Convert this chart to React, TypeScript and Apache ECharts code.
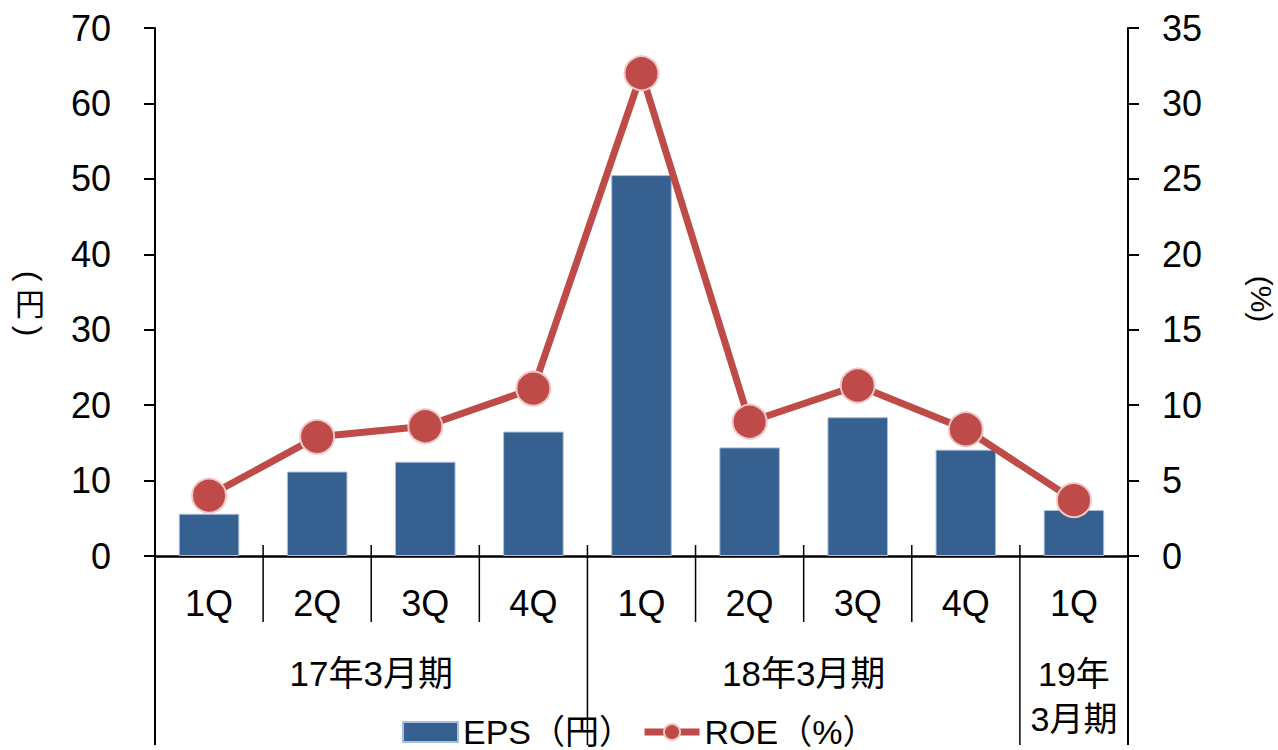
import React, { useEffect, useRef } from "react";
import * as echarts from "echarts";

const quarterLabels = ["1Q", "2Q", "3Q", "4Q", "1Q", "2Q", "3Q", "4Q", "1Q"];
const periodLabels = ["17年3月期", "18年3月期", "19年\n3月期"];
const periodSizes = [4, 4, 1];
const epsValues = [5.6, 11.2, 12.5, 16.5, 50.5, 14.4, 18.4, 14.1, 6.1];
const roeValues = [4.0, 7.9, 8.6, 11.1, 32.0, 8.9, 11.3, 8.4, 3.7];
const leftTicks = { min: 0, max: 70, interval: 10 };
const rightTicks = { min: 0, max: 35, interval: 5 };
const seriesNames = ["EPS（円）", "ROE（%）"];

const FONT = "'Liberation Sans', Arial, 'Noto Sans CJK JP', sans-serif";
const BAR_COLOR = "#36608F";
const LINE_COLOR = "#BE4B48";

const W = 1278;
const H = 750;
const GL = 155;
const GR = 1128;
const GT = 28;
const GB = 556;

export default function App() {
  const ref = useRef<HTMLDivElement>(null);
  useEffect(() => {
    if (!ref.current) return;
    const chart = echarts.init(ref.current, undefined, { renderer: "svg", width: W, height: H });
    const n = quarterLabels.length;
    const cw = (GR - GL) / n;
    const graphics: any[] = [];
    const boundaries = new Set<number>([0]);
    let acc = 0;
    periodSizes.forEach((s) => {
      acc += s;
      boundaries.add(acc);
    });
    for (let i = 0; i <= n; i++) {
      const x = GL + cw * i;
      const isGroup = boundaries.has(i);
      const isEdge = i === 0 || i === n;
      graphics.push({
        type: "line",
        shape: { x1: x, y1: isEdge ? GB : GB - 11, x2: x, y2: isGroup ? 745 : 622 },
        style: { stroke: "#000", lineWidth: isEdge ? 2 : 1.5 },
        z: 10,
      });
    }
    let start = 0;
    periodLabels.forEach((lab, gi) => {
      const s = periodSizes[gi];
      const cx = GL + cw * (start + s / 2);
      const multi = lab.includes("\n");
      graphics.push({
        type: "text",
        x: cx,
        y: multi ? 696 : 673,
        style: {
          text: lab,
          fontSize: multi ? 34 : 35,
          fontFamily: FONT,
          fill: "#000",
          align: "center",
          verticalAlign: "middle",
          lineHeight: 45,
        },
        z: 10,
      });
      start += s;
    });
    graphics.push(
      { type: "text", x: 30, y: 276, rotation: -Math.PI / 2, style: { text: "(", fontSize: 32, fontFamily: FONT, fill: "#000", align: "center", verticalAlign: "middle" } },
      { type: "text", x: 30, y: 304, style: { text: "円", fontSize: 30, fontFamily: FONT, fill: "#000", align: "center", verticalAlign: "middle" } },
      { type: "text", x: 30, y: 331, rotation: -Math.PI / 2, style: { text: ")", fontSize: 32, fontFamily: FONT, fill: "#000", align: "center", verticalAlign: "middle" } },
      { type: "text", x: 1261, y: 299, rotation: -Math.PI / 2, style: { text: "(%)", fontSize: 30, fontFamily: FONT, fill: "#000", align: "center", verticalAlign: "middle" } }
    );

    chart.setOption({
      animation: false,
      backgroundColor: "#fff",
      textStyle: { fontFamily: FONT },
      grid: { left: GL, right: W - GR, top: GT, bottom: H - GB, containLabel: false },
      legend: {
        data: [
          { name: seriesNames[0], icon: "rect" },
          { name: seriesNames[1], lineStyle: { width: 7 } },
        ],
        left: 397,
        top: 710,
        itemWidth: 55,
        itemHeight: 20,
        itemGap: 8,
        lineStyle: { width: 7 },
        textStyle: { fontSize: 34, fontFamily: FONT, color: "#000" },
      },
      xAxis: {
        type: "category",
        data: quarterLabels.map((_, i) => String(i)),
        boundaryGap: true,
        axisLine: { show: true, lineStyle: { color: "#000", width: 2.5 } },
        axisTick: { show: false },
        axisLabel: {
          interval: 0,
          margin: 29,
          fontSize: 36,
          color: "#000",
          fontFamily: FONT,
          formatter: (_v: string, idx: number) => quarterLabels[idx],
        },
        splitLine: { show: false },
      },
      yAxis: [
        {
          type: "value",
          min: leftTicks.min,
          max: leftTicks.max,
          interval: leftTicks.interval,
          position: "left",
          axisLine: { show: true, lineStyle: { color: "#000", width: 2 } },
          axisTick: { show: true, length: 11, lineStyle: { color: "#000", width: 2 } },
          axisLabel: { margin: 44, fontSize: 36, color: "#000", fontFamily: FONT },
          splitLine: { show: false },
        },
        {
          type: "value",
          min: rightTicks.min,
          max: rightTicks.max,
          interval: rightTicks.interval,
          position: "right",
          axisLine: { show: true, lineStyle: { color: "#000", width: 2 } },
          axisTick: { show: true, length: 11, lineStyle: { color: "#000", width: 2 } },
          axisLabel: { margin: 34, fontSize: 36, color: "#000", fontFamily: FONT },
          splitLine: { show: false },
        },
      ],
      series: [
        {
          name: seriesNames[0],
          type: "bar",
          yAxisIndex: 0,
          data: epsValues,
          barWidth: "56%",
          itemStyle: { color: BAR_COLOR, borderColor: "#A9BFDB", borderWidth: 1 },
          z: 2,
        },
        {
          name: seriesNames[1],
          type: "line",
          yAxisIndex: 1,
          data: roeValues,
          symbol: "circle",
          symbolSize: 34,
          lineStyle: { color: LINE_COLOR, width: 7 },
          itemStyle: { color: LINE_COLOR, borderColor: "#F0C8C7", borderWidth: 2 },
          z: 3,
        },
      ],
      graphic: graphics,
    });
    return () => chart.dispose();
  }, []);
  return (
    <div
      ref={ref}
      style={{ position: "fixed", left: 0, top: 0, width: W, height: H, background: "#fff" }}
    />
  );
}
